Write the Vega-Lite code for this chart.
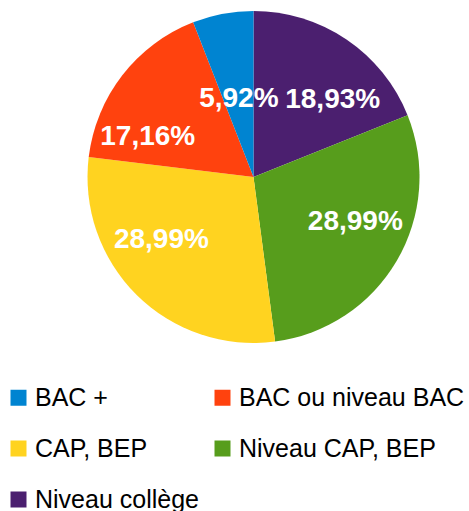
{
  "$schema": "https://vega.github.io/schema/vega-lite/v6.json",
  "autosize": "none",
  "width": 333,
  "height": 332,
  "padding": {"left": 87, "top": 11, "right": 49, "bottom": 168},
  "background": "white",
  "config": {
    "view": {"stroke": null},
    "font": "Liberation Sans",
    "locale": {"number": {"decimal": ",", "thousands": " ", "grouping": [3], "currency": ["", " €"]}},
    "text": {"font": "Liberation Sans", "fontWeight": "bold", "fontSize": 28, "color": "white", "baseline": "middle", "align": "center"}
  },
  "data": {
    "values": [
      {"niveau": "Niveau collège", "part": 0.1893, "ordre": 1},
      {"niveau": "Niveau CAP, BEP", "part": 0.2899, "ordre": 2},
      {"niveau": "CAP, BEP", "part": 0.2899, "ordre": 3},
      {"niveau": "BAC ou niveau BAC", "part": 0.1716, "ordre": 4},
      {"niveau": "BAC +", "part": 0.0592, "ordre": 5}
    ]
  },
  "encoding": {
    "theta": {"field": "part", "type": "quantitative", "stack": true},
    "order": {"field": "ordre", "type": "quantitative"}
  },
  "layer": [
    {
      "mark": {"type": "arc", "stroke": null},
      "encoding": {
        "color": {
          "field": "niveau",
          "type": "nominal",
          "scale": {
            "domain": ["BAC +", "BAC ou niveau BAC", "CAP, BEP", "Niveau CAP, BEP", "Niveau collège"],
            "range": ["#0084d1", "#ff420e", "#ffd320", "#579d1c", "#4b1f6f"]
          },
          "legend": {
            "title": null,
            "orient": "none",
            "legendX": -81,
            "legendY": 374,
            "direction": "horizontal",
            "columns": 2,
            "padding": 0,
            "columnPadding": 11,
            "rowPadding": 25,
            "symbolType": "square",
            "symbolSize": 256,
            "symbolStrokeWidth": 0,
            "labelFont": "Liberation Sans",
            "labelFontSize": 25,
            "labelColor": "#000000",
            "labelOffset": 4,
            "labelLimit": 400
          }
        }
      }
    },
    {
      "mark": {"type": "text", "radius": 111, "dx": 17, "dy": 15},
      "encoding": {"text": {"condition": {"test": "datum.ordre == 1", "field": "part", "type": "quantitative", "format": ".2%"}, "value": ""}}
    },
    {
      "mark": {"type": "text", "radius": 111, "dx": 6, "dy": -11},
      "encoding": {"text": {"condition": {"test": "datum.ordre == 2", "field": "part", "type": "quantitative", "format": ".2%"}, "value": ""}}
    },
    {
      "mark": {"type": "text", "radius": 111, "dx": -14, "dy": -16},
      "encoding": {"text": {"condition": {"test": "datum.ordre == 3", "field": "part", "type": "quantitative", "format": ".2%"}, "value": ""}}
    },
    {
      "mark": {"type": "text", "radius": 111, "dx": -18, "dy": 28},
      "encoding": {"text": {"condition": {"test": "datum.ordre == 4", "field": "part", "type": "quantitative", "format": ".2%"}, "value": ""}}
    },
    {
      "mark": {"type": "text", "radius": 79},
      "encoding": {"text": {"condition": {"test": "datum.ordre == 5", "field": "part", "type": "quantitative", "format": ".2%"}, "value": ""}}
    }
  ]
}
